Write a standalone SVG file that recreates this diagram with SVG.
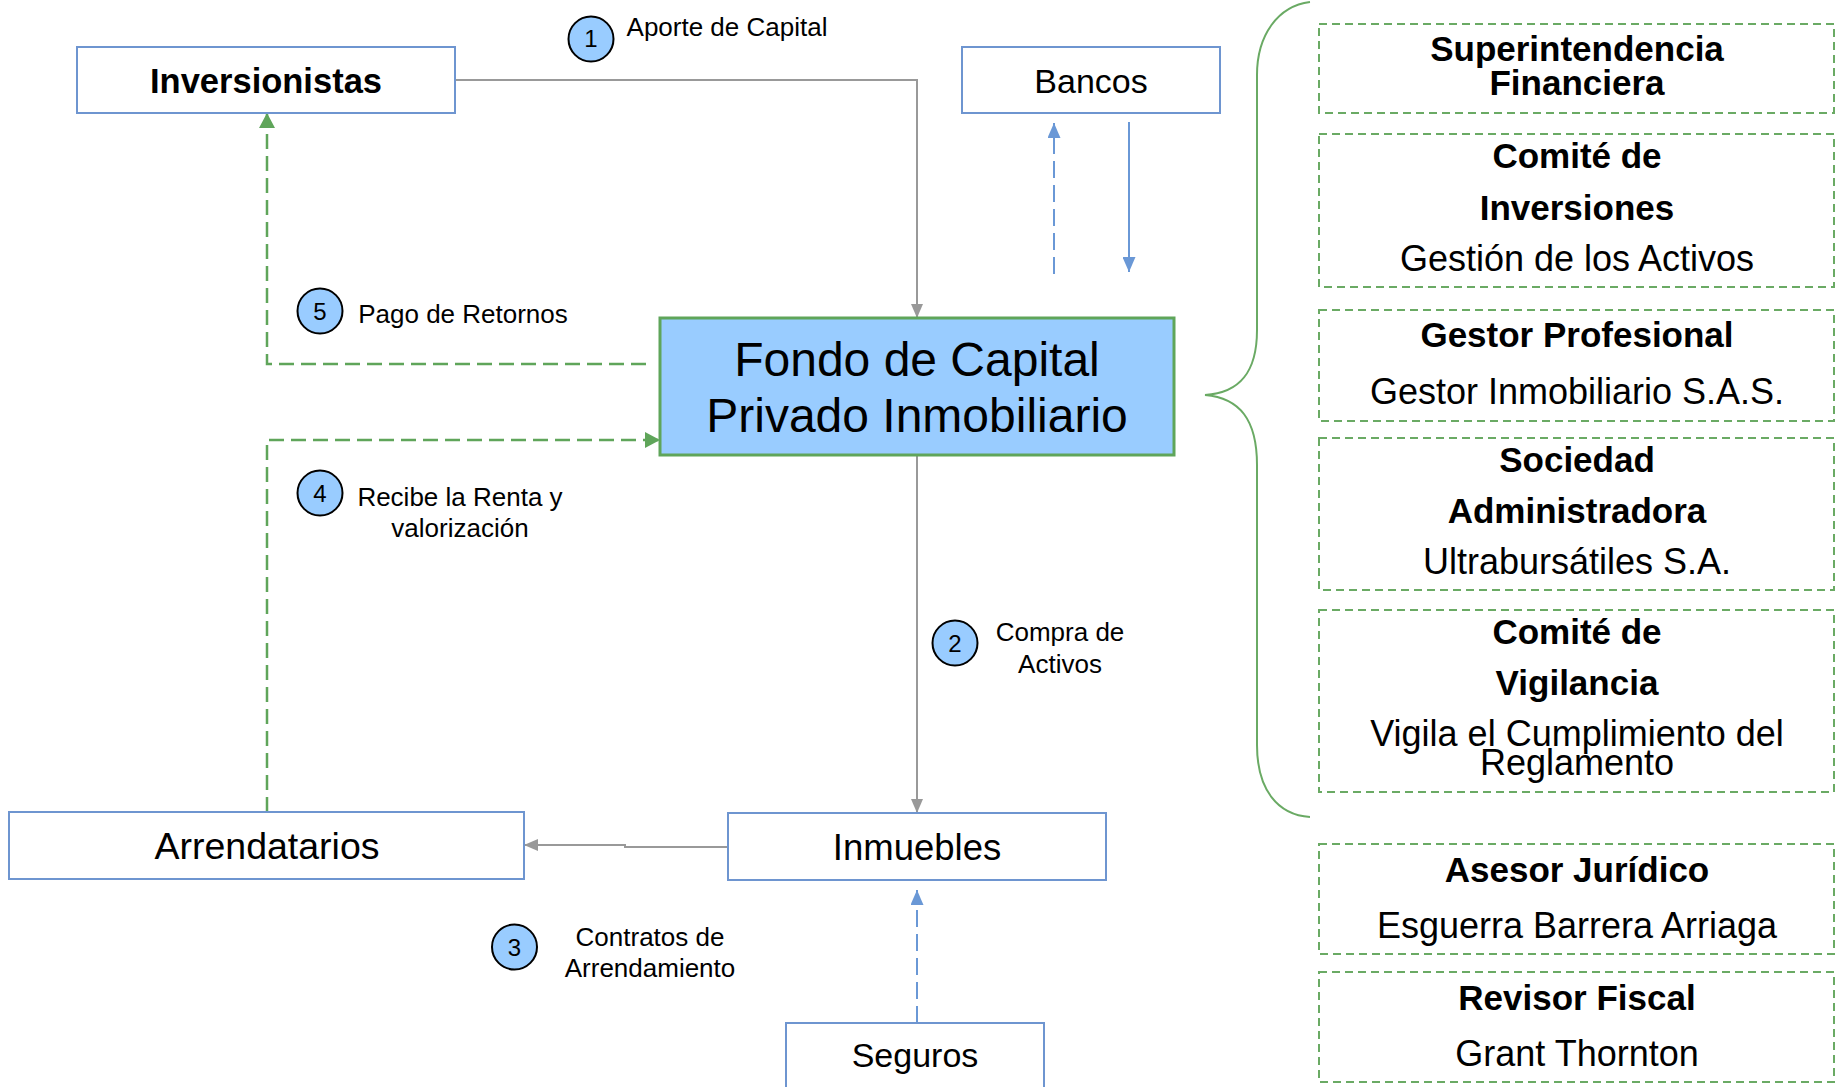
<svg xmlns="http://www.w3.org/2000/svg" width="1840" height="1087" viewBox="0 0 1840 1087">
<style>
text{font-family:"Liberation Sans",Arial,sans-serif;fill:#000;text-anchor:middle}
.box{fill:#fff;stroke:#6E95D0;stroke-width:2}
.dbox{fill:none;stroke:#6AAA64;stroke-width:2;stroke-dasharray:8 5}
.badge{fill:#99CCFF;stroke:#000;stroke-width:2}
.num{font-size:24px}
.lbl{font-size:26px}
.b{font-weight:bold;font-size:35px}
.r{font-size:36px}
.gray{fill:none;stroke:#999;stroke-width:2}
.green{fill:none;stroke:#5FA55A;stroke-width:2.5;stroke-dasharray:15 7}
.blue{fill:none;stroke:#6A98D6;stroke-width:2}
.bluedash{fill:none;stroke:#6A98D6;stroke-width:2;stroke-dasharray:17 7}
</style>
<defs>
<marker id="ag" markerUnits="userSpaceOnUse" markerWidth="14" markerHeight="12" refX="14" refY="6" orient="auto"><path d="M0,0 L14,6 L0,12 z" fill="#999"/></marker>
<marker id="agr" markerUnits="userSpaceOnUse" markerWidth="15" markerHeight="16" refX="15" refY="8" orient="auto"><path d="M0,0 L15,8 L0,16 z" fill="#5FA55A"/></marker>
<marker id="ab" markerUnits="userSpaceOnUse" markerWidth="15" markerHeight="13" refX="15" refY="6.5" orient="auto"><path d="M0,0 L15,6.5 L0,13 z" fill="#6A98D6"/></marker>
</defs>
<rect width="1840" height="1087" fill="#fff"/>

<g id="connectors">
<path class="gray" d="M455,80 H917 V318" marker-end="url(#ag)"/>
<path class="gray" d="M917,455 V813" marker-end="url(#ag)"/>
<path class="gray" d="M728,847 H625 V845 H524" marker-end="url(#ag)"/>
<path class="green" d="M267,812 V440 H660" marker-end="url(#agr)"/>
<path class="green" d="M646,364 H267 V113" marker-end="url(#agr)"/>
<path class="bluedash" d="M1054,274 V123" marker-end="url(#ab)"/>
<path class="blue" d="M1129,122 V272" marker-end="url(#ab)"/>
<path class="bluedash" d="M917,1023 V890" marker-end="url(#ab)"/>
<path d="M1310,2 C1278,6 1257,35 1257,75 L1257,330 C1257,372 1240,393 1205,395 C1240,398 1257,420 1257,465 L1257,745 C1257,790 1278,815 1310,817" fill="none" stroke="#6AAA64" stroke-width="2"/>
</g>

<g id="labels">
<circle class="badge" cx="591" cy="39" r="22.5"/><text class="num" x="591" y="47">1</text>
<text class="lbl" x="727" y="36">Aporte de Capital</text>
<circle class="badge" cx="320" cy="311" r="22.5"/><text class="num" x="320" y="319.5">5</text>
<text class="lbl" x="463" y="323">Pago de Retornos</text>
<circle class="badge" cx="320" cy="493" r="22.5"/><text class="num" x="320" y="501.5">4</text>
<text class="lbl" x="460" y="506">Recibe la Renta y</text>
<text class="lbl" x="460" y="537">valorización</text>
<circle class="badge" cx="955" cy="643" r="22.5"/><text class="num" x="955" y="651.5">2</text>
<text class="lbl" x="1060" y="641">Compra de</text>
<text class="lbl" x="1060" y="673">Activos</text>
<circle class="badge" cx="514.5" cy="947" r="22.5"/><text class="num" x="514.5" y="955.5">3</text>
<text class="lbl" x="650" y="946">Contratos de</text>
<text class="lbl" x="650" y="977">Arrendamiento</text>
</g>

<g id="inversionistas">
<rect class="box" x="77" y="47" width="378" height="66"/>
<text x="266" y="93" style="font-size:34.5px;font-weight:bold">Inversionistas</text>
</g>
<g id="bancos">
<rect class="box" x="962" y="47" width="258" height="66"/>
<text x="1091" y="93" style="font-size:34px">Bancos</text>
</g>
<g id="fondo">
<rect x="660" y="318" width="514" height="137" fill="#99CCFF" stroke="#5FA55A" stroke-width="3"/>
<text x="917" y="376" style="font-size:48px">Fondo de Capital</text>
<text x="917" y="432" style="font-size:48px">Privado Inmobiliario</text>
</g>
<g id="inmuebles">
<rect class="box" x="728" y="813" width="378" height="67"/>
<text x="917" y="860" style="font-size:36.5px">Inmuebles</text>
</g>
<g id="arrendatarios">
<rect class="box" x="9" y="812" width="515" height="67"/>
<text x="267" y="859" style="font-size:37.5px">Arrendatarios</text>
</g>
<g id="seguros">
<rect class="box" x="786" y="1023" width="258" height="80"/>
<text x="915" y="1067" style="font-size:34px">Seguros</text>
</g>

<g id="superintendencia">
<rect class="dbox" x="1319" y="24" width="515" height="89"/>
<text class="b" x="1577" y="61">Superintendencia</text>
<text class="b" x="1577" y="94.5">Financiera</text>
</g>
<g id="comite-inversiones">
<rect class="dbox" x="1319" y="134" width="515" height="153"/>
<text class="b" x="1577" y="168">Comité de</text>
<text class="b" x="1577" y="219.5">Inversiones</text>
<text class="r" x="1577" y="271">Gestión de los Activos</text>
</g>
<g id="gestor">
<rect class="dbox" x="1319" y="310" width="515" height="111"/>
<text class="b" x="1577" y="347">Gestor Profesional</text>
<text class="r" x="1577" y="403.5">Gestor Inmobiliario S.A.S.</text>
</g>
<g id="sociedad">
<rect class="dbox" x="1319" y="438" width="515" height="152"/>
<text class="b" x="1577" y="472">Sociedad</text>
<text class="b" x="1577" y="522.5">Administradora</text>
<text class="r" x="1577" y="574">Ultrabursátiles S.A.</text>
</g>
<g id="comite-vigilancia">
<rect class="dbox" x="1319" y="610" width="515" height="182"/>
<text class="b" x="1577" y="644">Comité de</text>
<text class="b" x="1577" y="695">Vigilancia</text>
<text class="r" x="1577" y="746">Vigila el Cumplimiento del</text>
<text class="r" x="1577" y="775">Reglamento</text>
</g>
<g id="asesor">
<rect class="dbox" x="1319" y="844" width="515" height="110"/>
<text class="b" x="1577" y="881.5">Asesor Jurídico</text>
<text class="r" x="1577" y="938">Esguerra Barrera Arriaga</text>
</g>
<g id="revisor">
<rect class="dbox" x="1319" y="972" width="515" height="110"/>
<text class="b" x="1577" y="1010">Revisor Fiscal</text>
<text class="r" x="1577" y="1065.5">Grant Thornton</text>
</g>
</svg>
